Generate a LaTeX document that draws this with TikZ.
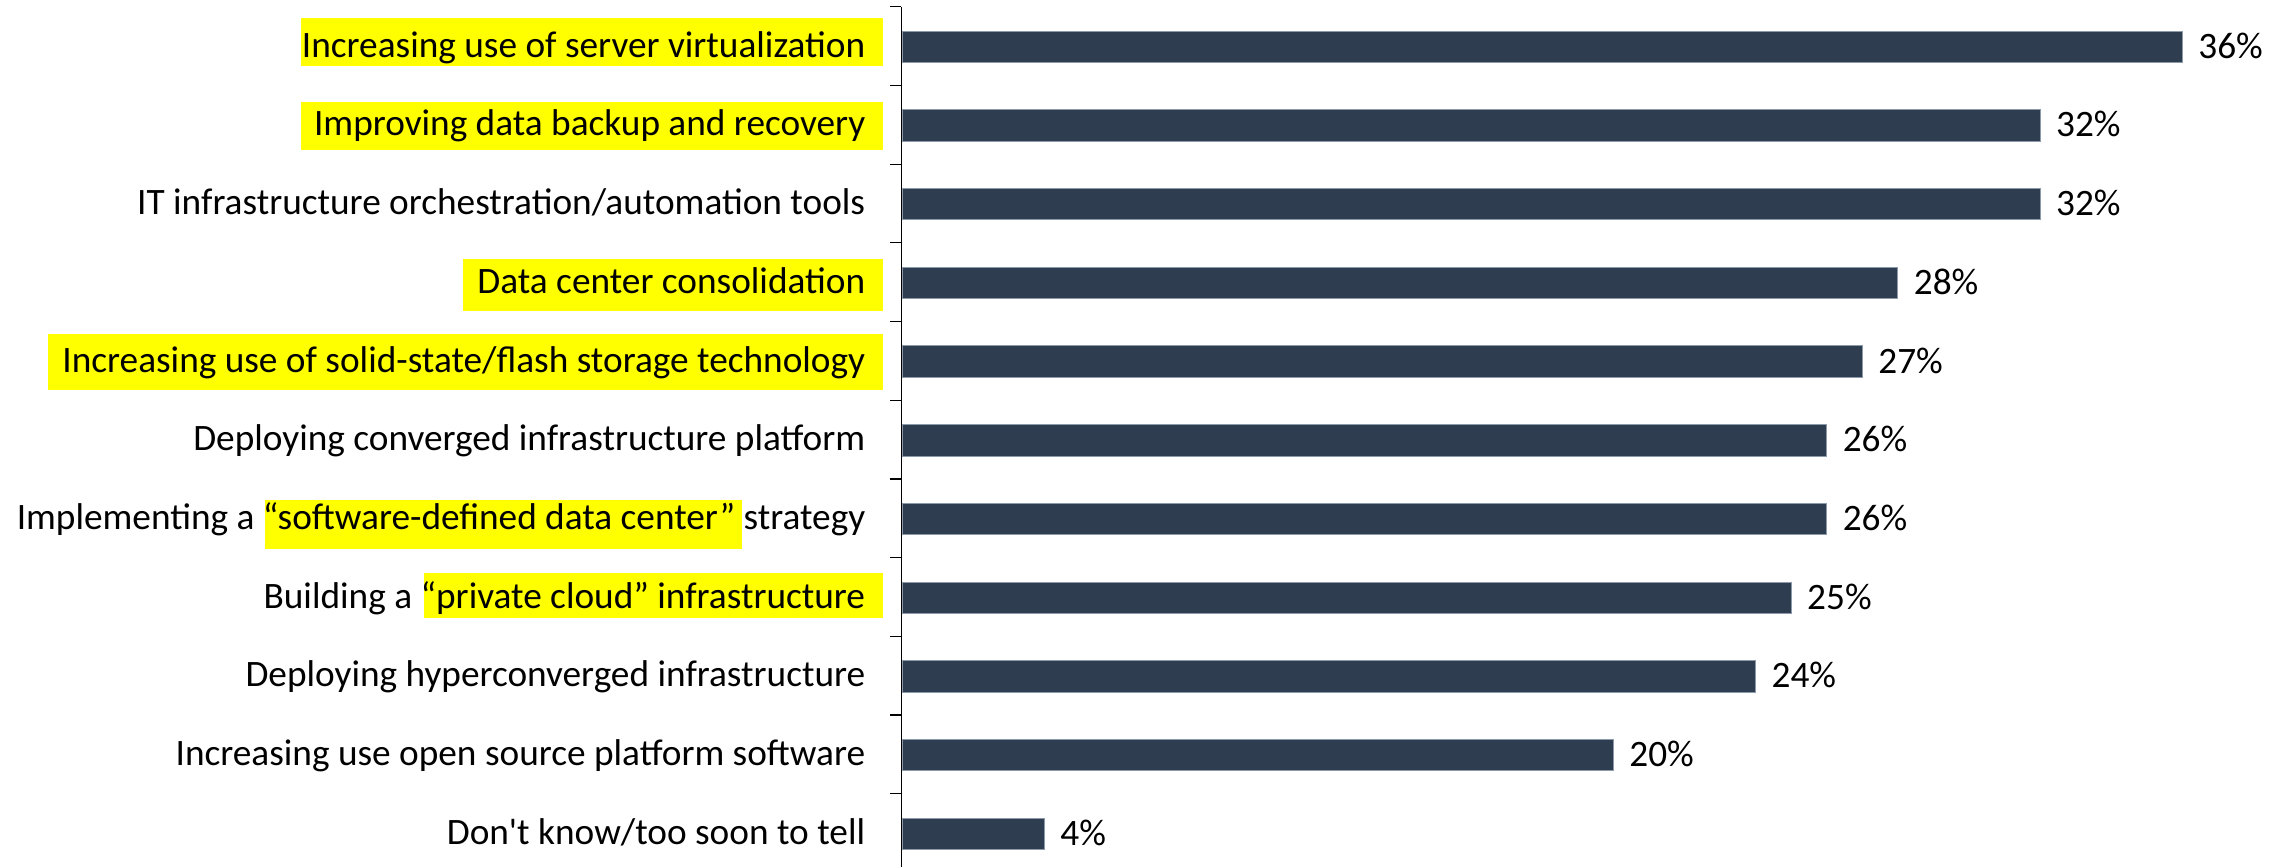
\documentclass[tikz,border=0pt]{standalone}
\usepackage{fontspec}
\setmainfont{Carlito}[Ligatures=TeXOff]
\definecolor{barc}{RGB}{46,62,80}
\definecolor{baredge}{RGB}{140,154,170}
\definecolor{hl}{RGB}{255,255,0}
\tikzset{
  lab/.style={anchor=base east, inner sep=0pt, font=\fontsize{37.3}{44}\selectfont},
  pct/.style={anchor=base west, inner sep=0pt, font=\fontsize{37.3}{44}\selectfont},
  barstyle/.style={fill=barc, draw=baredge, line width=0.8pt},
  hlbox/.style={fill=hl},
  axisline/.style={draw=black, line width=1.2pt},
}
\newcommand{\chartrow}[3]{%
  \pgfmathsetmacro{\yc}{46.7+78.7*(#1-1)}%
  \pgfmathsetmacro{\xe}{902+35.56*#3}%
  \path[barstyle] (902,\yc-15.7) rectangle (\xe,\yc+15.7);
  \coordinate (e#1) at (\xe,\yc);
  \node[lab] (l#1) at (865.4,\yc+10.5) {#2};
  \node[pct] (p#1) at (\xe+16,\yc+11.5) {#3\%};
}
\begin{document}
\begin{tikzpicture}[x=1pt,y=-1pt]
\useasboundingbox (0,0) rectangle (2288,867);
% highlights
\fill[hlbox] (301,18) rectangle (883,65.7);
\fill[hlbox] (301,102.3) rectangle (883,149.7);
\fill[hlbox] (463,259.3) rectangle (883,310.7);
\fill[hlbox] (47.8,334) rectangle (883,389.7);
\fill[hlbox] (265.3,500) rectangle (741.7,549.3);
\fill[hlbox] (424,573.3) rectangle (883,617.7);
% axis
\draw[axisline] (901.3,6.7) -- (901.3,867);
\foreach \k in {0,...,10}{
  \draw[axisline] (890,6.7+78.7*\k) -- (901.3,6.7+78.7*\k);
}
% rows
\chartrow{1}{Increasing use of server virtualization}{36}
\chartrow{2}{Improving data backup and recovery}{32}
\chartrow{3}{IT infrastructure orchestration/automation tools}{32}
\chartrow{4}{Data center consolidation}{28}
\chartrow{5}{Increasing use of solid-state/flash storage technology}{27}
\chartrow{6}{Deploying converged infrastructure platform}{26}
\chartrow{7}{Implementing a “software-defined data center” strategy}{26}
\chartrow{8}{Building a “private cloud” infrastructure}{25}
\chartrow{9}{Deploying hyperconverged infrastructure}{24}
\chartrow{10}{Increasing use open source platform software}{20}
\chartrow{11}{Don't know/too soon to tell}{4}
\end{tikzpicture}
\end{document}
